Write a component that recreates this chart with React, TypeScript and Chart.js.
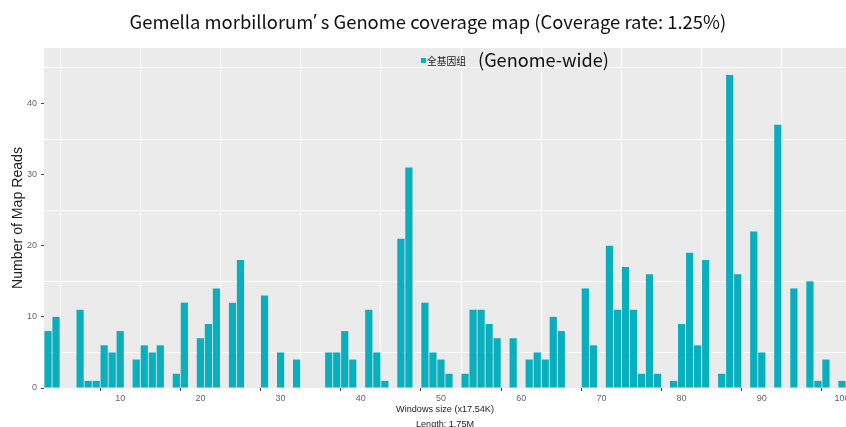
import { useEffect, useRef } from 'react';
import { Chart, registerables } from 'chart.js';

Chart.register(...registerables);

const windows = [
  1, 2, 3, 4, 5, 6, 7, 8, 9, 10,
  11, 12, 13, 14, 15, 16, 17, 18, 19, 20,
  21, 22, 23, 24, 25, 26, 27, 28, 29, 30,
  31, 32, 33, 34, 35, 36, 37, 38, 39, 40,
  41, 42, 43, 44, 45, 46, 47, 48, 49, 50,
  51, 52, 53, 54, 55, 56, 57, 58, 59, 60,
  61, 62, 63, 64, 65, 66, 67, 68, 69, 70,
  71, 72, 73, 74, 75, 76, 77, 78, 79, 80,
  81, 82, 83, 84, 85, 86, 87, 88, 89, 90,
  91, 92, 93, 94, 95, 96, 97, 98, 99, 100,
];

const reads = [
  8, 10, 0, 0, 11, 1, 1, 6, 5, 8,
  0, 4, 6, 5, 6, 0, 2, 12, 0, 7,
  9, 14, 0, 12, 18, 0, 0, 13, 0, 5,
  0, 4, 0, 0, 0, 5, 5, 8, 4, 0,
  11, 5, 1, 0, 21, 31, 0, 12, 5, 4,
  2, 0, 2, 11, 11, 9, 7, 0, 7, 0,
  4, 5, 4, 10, 8, 0, 0, 14, 6, 0,
  20, 11, 17, 11, 2, 16, 2, 0, 1, 9,
  19, 6, 18, 0, 2, 44, 16, 0, 22, 5,
  0, 37, 0, 14, 0, 15, 1, 4, 0, 1,
];

const xTickValues = [10, 20, 30, 40, 50, 60, 70, 80, 90, 100];
const xGridValues = [5, 15, 25, 35, 45, 55, 65, 75, 85, 95];
const yTickValues = [0, 10, 20, 30, 40];
const yGridValues = [5, 15, 25, 35, 45];

const titleParts = ['Gemella morbillorum', '’', ' s Genome coverage map (Coverage rate: 1.25%)'];
const legendLabel = '全基因组';
const legendNote = '(Genome-wide)';
const yTitle = 'Number of Map Reads';
const xTitleLines = ['Windows size (x17.54K)', 'Length: 1.75M'];

const BAR_COLOR = '#0AAFBE';
const CJK = '"Noto Sans CJK SC", "Noto Sans", sans-serif';
const LATIN = '"Noto Sans", sans-serif';

function fitText(
  ctx: CanvasRenderingContext2D,
  text: string,
  x: number,
  y: number,
  targetWidth: number,
  family: string,
  color: string,
  align: CanvasTextAlign = 'center'
) {
  ctx.font = `20px ${family}`;
  const w = ctx.measureText(text).width;
  const size = (20 * targetWidth) / w;
  ctx.font = `${size}px ${family}`;
  ctx.fillStyle = color;
  ctx.textAlign = align;
  ctx.textBaseline = 'middle';
  ctx.fillText(text, x, y);
}

function drawTitle(ctx: CanvasRenderingContext2D, cx: number, y: number, targetWidth: number) {
  const fams = [CJK, LATIN, CJK];
  let total = 0;
  const widths: number[] = [];
  titleParts.forEach((t, i) => {
    ctx.font = `20px ${fams[i]}`;
    const w = ctx.measureText(t).width;
    widths.push(w);
    total += w;
  });
  const k = targetWidth / total;
  const size = 20 * k;
  let x = cx - targetWidth / 2;
  ctx.fillStyle = '#111';
  ctx.textAlign = 'left';
  ctx.textBaseline = 'middle';
  titleParts.forEach((t, i) => {
    ctx.font = `${size}px ${fams[i]}`;
    ctx.fillText(t, x, y);
    x += widths[i] * k;
  });
}

const decorPlugin = {
  id: 'decor',
  beforeDraw(chart: any) {
    const { ctx, chartArea: a } = chart;
    ctx.save();
    ctx.fillStyle = '#EBEBEB';
    ctx.fillRect(a.left, a.top, a.right - a.left, a.bottom - a.top);
    ctx.restore();
  },
  afterDraw(chart: any) {
    const { ctx, chartArea: a } = chart;
    ctx.save();
    drawTitle(ctx, 428, 22, 597);
    ctx.fillStyle = BAR_COLOR;
    ctx.fillRect(421, 58, 5, 5);
    fitText(ctx, legendLabel, 427, 61, 39, CJK, '#222', 'left');
    fitText(ctx, legendNote, 478, 60.5, 131, CJK, '#111', 'left');
    const cx = (a.left + a.right) / 2;
    fitText(ctx, xTitleLines[0], cx, 409.5, 98, '"Liberation Sans", Arial, sans-serif', '#222');
    fitText(ctx, xTitleLines[1], cx, 424, 58, '"Liberation Sans", Arial, sans-serif', '#222');
    ctx.translate(18, (a.top + a.bottom) / 2);
    ctx.rotate(-Math.PI / 2);
    fitText(ctx, yTitle, 0, 0, 142, '"Liberation Sans", Arial, sans-serif', '#222');
    ctx.restore();
  },
};

export default function App() {
  const ref = useRef<HTMLCanvasElement | null>(null);

  useEffect(() => {
    if (!ref.current) return;
    Chart.defaults.font.family = '"Liberation Sans", Arial, sans-serif';
    const xAll = [...xGridValues, ...xTickValues].sort((p, q) => p - q);
    const yAll = [...yTickValues, ...yGridValues].sort((p, q) => p - q);
    const chart = new Chart(ref.current, {
      type: 'bar',
      data: {
        datasets: [
          {
            label: legendLabel,
            data: windows.map((w, i) => ({ x: w, y: reads[i] })),
            backgroundColor: BAR_COLOR,
            borderWidth: 0,
            barPercentage: 0.9,
            categoryPercentage: 1,
          },
        ],
      },
      options: {
        animation: false,
        responsive: true,
        maintainAspectRatio: false,
        layout: { padding: { top: 48, left: 0, right: 0, bottom: 0 } },
        plugins: {
          legend: { display: false },
          title: { display: false },
          tooltip: { enabled: false },
        },
        scales: {
          x: {
            type: 'linear',
            min: 0.5,
            max: 100.5,
            offset: false,
            afterBuildTicks: (s: any) => {
              s.ticks = xAll.map((v) => ({ value: v }));
            },
            afterFit: (s: any) => {
              s.height = 39;
              s.paddingLeft = 0;
              s.paddingRight = 0;
            },
            ticks: {
              autoSkip: false,
              maxRotation: 0,
              padding: 2,
              color: '#666',
              font: { size: 9 },
              callback: (v: any) => (xTickValues.includes(Number(v)) ? String(v) : ''),
            },
            grid: {
              drawTicks: true,
              tickLength: 3,
              lineWidth: 1,
              color: (c: any) =>
                c.tick && xGridValues.includes(c.tick.value) ? 'rgba(255,255,255,0.95)' : 'rgba(0,0,0,0)',
              tickColor: (c: any) =>
                c.tick && xTickValues.includes(c.tick.value) ? '#444' : 'rgba(0,0,0,0)',
            },
            border: { display: false },
          },
          y: {
            type: 'linear',
            min: 0,
            max: 47.8,
            afterBuildTicks: (s: any) => {
              s.ticks = yAll.map((v) => ({ value: v }));
            },
            afterFit: (s: any) => {
              s.width = 44;
              s.paddingTop = 0;
              s.paddingBottom = 0;
            },
            ticks: {
              autoSkip: false,
              padding: 4,
              color: '#666',
              font: { size: 9 },
              callback: (v: any) => (yTickValues.includes(Number(v)) ? String(v) : ''),
            },
            grid: {
              drawTicks: true,
              tickLength: 3,
              lineWidth: 1,
              color: (c: any) =>
                c.tick && yGridValues.includes(c.tick.value) ? 'rgba(255,255,255,0.95)' : 'rgba(0,0,0,0)',
              tickColor: (c: any) =>
                c.tick && yTickValues.includes(c.tick.value) ? '#444' : 'rgba(0,0,0,0)',
            },
            border: { display: false },
          },
        },
      },
      plugins: [decorPlugin],
    });
    return () => chart.destroy();
  }, []);

  return (
    <div
      style={{
        position: 'fixed',
        left: 0,
        top: 0,
        width: 846,
        height: 427,
        background: '#fff',
        overflow: 'hidden',
      }}
    >
      <canvas ref={ref} />
    </div>
  );
}
